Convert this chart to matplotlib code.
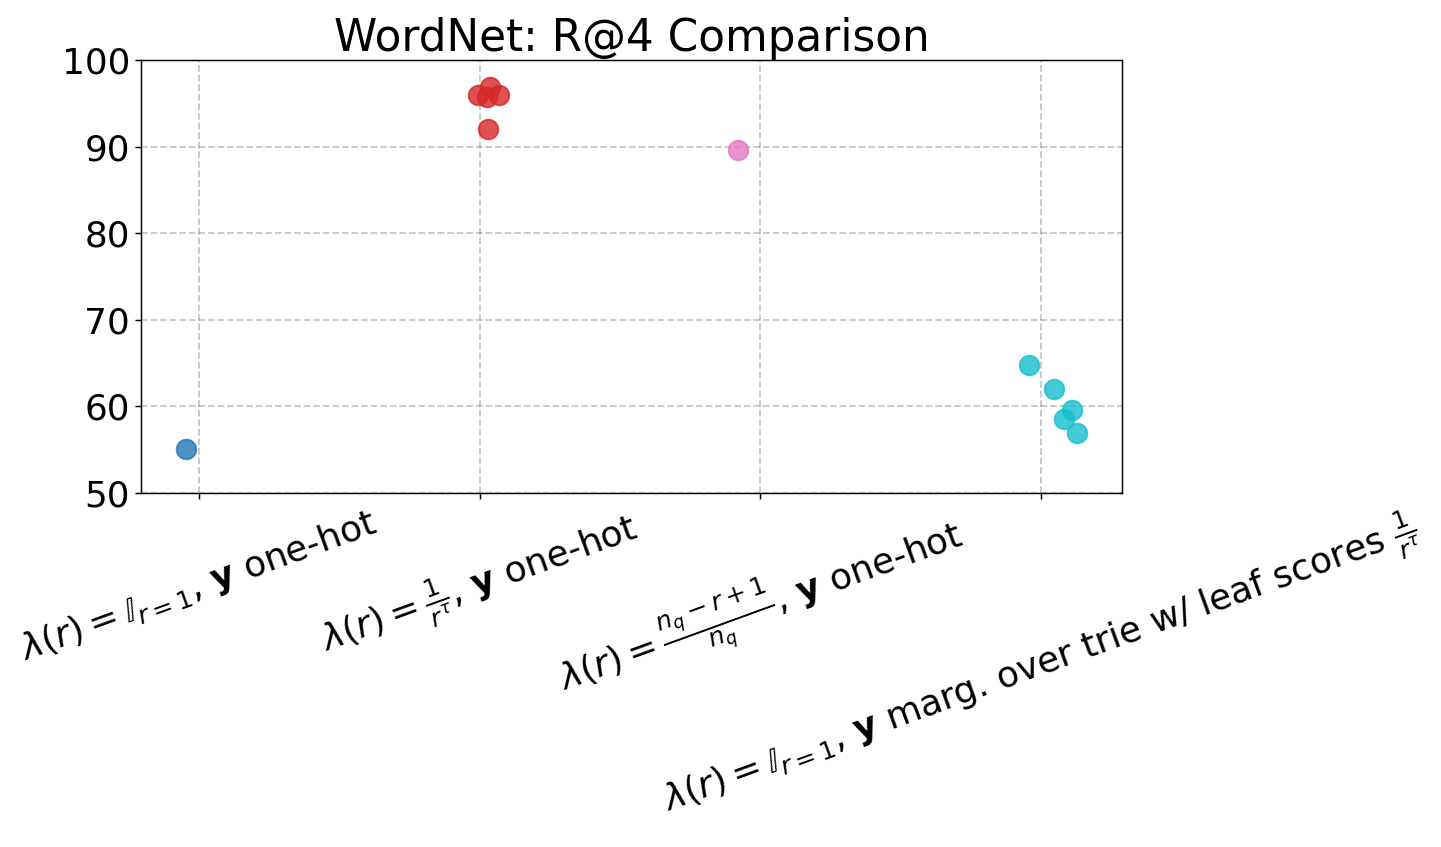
import matplotlib
matplotlib.use("Agg")
import matplotlib.pyplot as plt

title = "WordNet: R@4 Comparison"
categories = [
    r"$\lambda(r) = \mathbb{I}_{r=1}$, $\mathbf{y}$ one-hot",
    r"$\lambda(r) = \frac{1}{r^{\tau}}$, $\mathbf{y}$ one-hot",
    r"$\lambda(r) = \frac{n_q - r + 1}{n_q}$, $\mathbf{y}$ one-hot",
    r"$\lambda(r) = \mathbb{I}_{r=1}$, $\mathbf{y}$ marg. over trie w/ leaf scores $\frac{1}{r^{\tau}}$",
]
colors = ["#1f77b4", "#d62728", "#e377c2", "#17becf"]

# R@4 values per category
vals_0 = [55.1]
vals_1 = [96.0, 96.9, 95.7, 96.0, 92.0]
vals_2 = [89.6]
vals_3 = [64.8, 62.0, 59.6, 58.6, 56.9]
# horizontal jitter offsets per point
jit_0 = [-0.046]
jit_1 = [-0.007, 0.039, 0.025, 0.068, 0.032]
jit_2 = [-0.078]
jit_3 = [-0.045, 0.046, 0.111, 0.082, 0.129]

values = [vals_0, vals_1, vals_2, vals_3]
jitters = [jit_0, jit_1, jit_2, jit_3]

fig = plt.figure(figsize=(14.41, 8.47), dpi=100)
ax = fig.add_axes([0.0979, 0.4179, 0.6808, 0.5113])

for i, (v, j, c) in enumerate(zip(values, jitters, colors)):
    ax.scatter([i + d for d in j], v, s=200, color=c, alpha=0.8, linewidths=1.3, zorder=3)

ax.set_xticks(range(len(categories)))
ax.set_xticklabels(categories, rotation=20, ha="center", fontsize=25.8)
ax.set_xlim(-0.205, 3.288)
ax.set_ylim(50, 100)
ax.set_yticks([50, 60, 70, 80, 90, 100])
ax.tick_params(axis="y", labelsize=25.8)
ax.tick_params(axis="both", length=4.5, width=1.05)
for sp in ax.spines.values():
    sp.set_linewidth(1.05)
ax.grid(True, linestyle="--", color="gray", alpha=0.45, linewidth=1.3)
ax.set_axisbelow(True)
ax.set_title(title, fontsize=31.5)

fig.savefig("out.png", dpi=100)
